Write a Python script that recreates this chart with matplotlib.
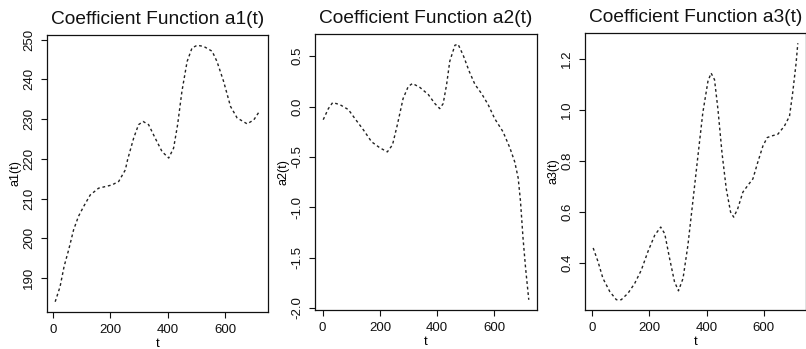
import matplotlib.pyplot as plt

plt.rcParams['font.family'] = ['Liberation Sans', 'DejaVu Sans']
plt.rcParams['axes.unicode_minus'] = False

# --- values ---
t1 = [8, 25, 39, 55, 72, 89, 107, 130, 159, 205, 229, 252, 260, 281, 298, 314,
      333, 356, 380, 403, 420, 434, 449, 467, 484, 502, 525, 554, 571, 594, 618,
      641, 676, 699, 720]
a1 = [184.0, 187.8, 192.9, 197.1, 202.1, 205.5, 208.0, 210.9, 212.6, 213.4, 214.3,
      217.2, 219.8, 225.2, 228.6, 229.4, 228.6, 225.2, 221.8, 220.2, 222.7, 228.6,
      237.0, 244.5, 247.9, 248.6, 248.3, 247.1, 244.5, 239.5, 233.2, 230.3, 228.8,
      229.8, 232.1]

t2 = [2, 20, 35, 60, 90, 113, 142, 171, 200, 226, 244, 261, 281, 299, 314, 340,
      369, 392, 409, 421, 433, 444, 462, 473, 491, 512, 532, 555, 578, 601, 630,
      654, 671, 683, 691, 700, 709, 720]
a2 = [-0.13, -0.02, 0.04, 0.02, -0.03, -0.12, -0.23, -0.35, -0.41, -0.45, -0.38,
      -0.18, 0.08, 0.20, 0.23, 0.19, 0.12, 0.03, -0.02, 0.03, 0.22, 0.45, 0.61,
      0.62, 0.51, 0.35, 0.22, 0.13, 0.02, -0.12, -0.25, -0.41, -0.55, -0.71,
      -0.94, -1.31, -1.61, -1.92]

t3 = [4, 21, 38, 62, 85, 102, 126, 149, 172, 195, 219, 240, 254, 271, 288, 302,
      318, 335, 352, 370, 387, 405, 416, 428, 440, 454, 469, 484, 495, 509, 527,
      544, 562, 579, 597, 612, 626, 649, 672, 690, 701, 713, 719]
a3 = [0.458, 0.404, 0.339, 0.287, 0.255, 0.255, 0.281, 0.319, 0.371, 0.443, 0.508,
      0.540, 0.514, 0.417, 0.326, 0.290, 0.339, 0.469, 0.638, 0.819, 0.988, 1.112,
      1.144, 1.118, 1.001, 0.832, 0.690, 0.599, 0.579, 0.612, 0.677, 0.703, 0.729,
      0.794, 0.858, 0.891, 0.897, 0.904, 0.936, 0.975, 1.066, 1.183, 1.261]

titles = ["Coefficient Function a1(t)", "Coefficient Function a2(t)",
          "Coefficient Function a3(t)"]
ylabels = ["a1(t)", "a2(t)", "a3(t)"]
xticks = [0, 200, 400, 600]
yticks1 = [190, 200, 210, 220, 230, 240, 250]
yticks2 = [-2.0, -1.5, -1.0, -0.5, 0.0, 0.5]
yticks3 = [0.4, 0.6, 0.8, 1.0, 1.2]
ytick_labels = [[str(v) for v in yticks1],
                [f"{v:.1f}" for v in yticks2],
                [f"{v:.1f}" for v in yticks3]]

W, H = 806, 349
# axes boxes in pixels: left, top, right, bottom
boxes = [(47, 35, 268, 312), (315, 34, 537, 310), (585, 33, 806, 310)]


def r_range(vals):
    # R style 4% padding
    lo, hi = min(vals), max(vals)
    pad = 0.04 * (hi - lo)
    return lo - pad, hi + pad


fig = plt.figure(figsize=(W / 100, H / 100), dpi=100)

series = [(t1, a1, yticks1), (t2, a2, yticks2), (t3, a3, yticks3)]
for i, (t, a, yt) in enumerate(series):
    l, tp, r, b = boxes[i]
    ax = fig.add_axes([l / W, (H - b) / H, (r - l) / W, (b - tp) / H])
    ax.plot(t, a, color='#222222', linewidth=1.0, linestyle=(0, (2.0, 2.0)))
    ax.set_xlim(*r_range(t))
    ax.set_ylim(*r_range(a))
    ax.set_xticks(xticks)
    ax.set_yticks(yt)
    ax.set_yticklabels(ytick_labels[i], rotation=90, va='center')
    ax.tick_params(direction='out', length=4, width=0.8, labelsize=9.5, pad=4.5,
                   colors='#111111')
    for sp in ax.spines.values():
        sp.set_linewidth(0.9)
        sp.set_color('#111111')
    h = b - tp
    w = r - l
    ax.text(0.5, 1 + 15.5 / h, titles[i], transform=ax.transAxes, ha='center',
            va='center', fontsize=13.8, color='#111111')
    ax.set_xlabel("t", fontsize=9.5)
    ax.xaxis.set_label_coords(0.5, -32 / h)
    ax.xaxis.label.set_va('center')
    ax.set_ylabel(ylabels[i], fontsize=9)
    ax.yaxis.set_label_coords(-31.5 / w, 0.5)
    ax.yaxis.label.set_va('center')

fig.savefig("out.png", dpi=100)
